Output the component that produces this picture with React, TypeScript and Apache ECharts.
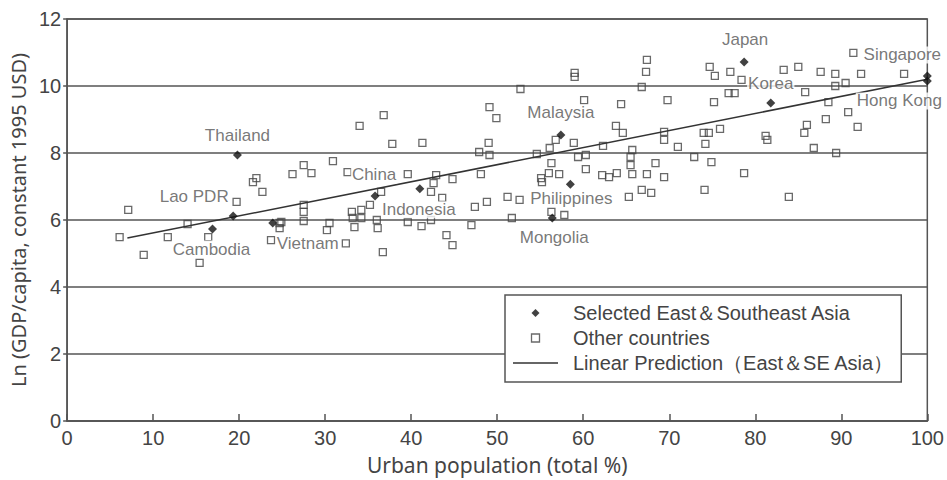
import React, { useEffect, useRef } from "react";
import * as echarts from "echarts";

// Selected East & Southeast Asia
const selectedNames = ["Thailand", "Lao PDR", "Cambodia", "Vietnam", "China", "Indonesia", "Philippines", "Mongolia", "Malaysia", "Japan", "Korea", "Singapore", "Hong Kong"];
const selectedUrban = [19.8, 19.3, 16.9, 23.9, 35.8, 41.0, 58.5, 56.4, 57.4, 78.7, 81.8, 100, 100];
const selectedLnGdp = [7.94, 6.12, 5.73, 5.91, 6.72, 6.93, 7.07, 6.06, 8.54, 10.72, 9.49, 10.3, 10.15];

// Other countries
const otherUrban = [
  7.1, 6.1, 8.9, 11.7, 14.0, 16.4, 15.4, 19.7, 22.0, 21.6, 22.7, 23.7, 24.7, 24.7, 26.2, 27.5, 28.4, 30.9, 27.5, 27.5,
  27.5, 24.9, 30.5, 30.2, 33.1, 34.2, 33.2, 33.4, 35.2, 34.2, 36.0, 36.1, 32.6, 36.5, 39.6, 36.7, 39.6, 41.2, 42.3, 42.9,
  42.6, 42.3, 44.8, 43.6, 44.1, 44.8, 47.0, 47.4, 48.8, 48.1, 49.1, 47.9, 51.2, 34.0, 36.8, 37.8, 41.3, 49.1, 49.9, 49.0,
  52.7, 59.0, 59.0, 67.4, 67.3, 66.8, 74.7, 75.3, 76.9, 60.1, 64.4, 69.8, 75.2, 63.8, 64.6, 69.4, 69.4, 71.0, 74.0, 74.6,
  74.2, 75.9, 58.9, 62.3, 65.7, 56.1, 56.8, 54.6, 60.3, 59.4, 65.5, 56.3, 56.0, 57.2, 55.1, 55.2, 60.3, 62.2, 63.0, 63.9,
  65.5, 65.7, 67.4, 68.4, 69.4, 72.9, 74.9, 65.3, 66.8, 67.9, 74.1, 52.6, 51.7, 56.3, 57.8, 77.1, 77.6, 85.0, 83.3, 85.8,
  87.6, 89.3, 89.3, 90.5, 92.3, 97.3, 91.4, 88.5, 90.8, 88.2, 86.0, 85.7, 91.9, 81.2, 81.4, 86.8, 89.4, 78.4, 78.7, 83.9,
  32.4
];
const otherLnGdp = [
  6.3, 5.49, 4.96, 5.49, 5.88, 5.49, 4.72, 6.54, 7.25, 7.13, 6.84, 5.4, 5.91, 5.76, 7.37, 7.64, 7.4, 7.76, 6.45, 6.24,
  5.97, 5.94, 5.91, 5.7, 6.24, 6.3, 6.06, 5.79, 6.45, 6.06, 6.0, 5.76, 7.43, 6.84, 7.37, 5.04, 5.94, 5.82, 6.0, 7.34,
  7.1, 6.84, 7.22, 6.66, 5.55, 5.25, 5.85, 6.39, 6.54, 7.37, 7.94, 8.03, 6.69, 8.81, 9.13, 8.27, 8.3, 9.37, 9.04, 8.3,
  9.91, 10.39, 10.27, 10.78, 10.42, 9.97, 10.57, 10.3, 9.79, 9.58, 9.46, 9.58, 9.52, 8.81, 8.6, 8.63, 8.39, 8.18, 8.6, 8.6,
  8.27, 8.72, 8.3, 8.21, 8.09, 8.15, 8.39, 7.97, 7.94, 7.88, 7.88, 7.7, 7.4, 7.37, 7.25, 7.13, 7.52, 7.34, 7.28, 7.4,
  7.64, 7.37, 7.37, 7.7, 7.28, 7.88, 7.73, 6.69, 6.9, 6.81, 6.9, 6.6, 6.06, 6.24, 6.15, 10.42, 9.79, 10.57, 10.48, 9.82,
  10.42, 10.36, 10.0, 10.09, 10.36, 10.36, 10.99, 9.52, 9.22, 9.01, 8.84, 8.6, 8.78, 8.51, 8.39, 8.15, 8.0, 10.18, 7.4, 6.69,
  5.3
];

// Linear prediction (East & SE Asia): endpoints of fitted line
const fitUrban = [7, 100];
const fitLnGdp = [5.46, 10.2];

const xTicks = [0, 100, 10];
const yTicks = [0, 12, 2];

const seriesNames = [
  "Selected East＆Southeast Asia",
  "Other countries",
  "Linear Prediction（East＆SE Asia）",
];

const xTitle = "Urban population (total %)";
const yTitle = "Ln (GDP/capita, constant 1995 USD)";

// label placement (style)
const labelOffsets: Record<string, [number, number]> = {
  Thailand: [0, -20],
  "Lao PDR": [-39, -19],
  Cambodia: [-1, 20],
  Vietnam: [35, 20],
  China: [-1, -21],
  Indonesia: [-1, 21],
  Philippines: [1, 14],
  Mongolia: [2, 20],
  Malaysia: [0, -22],
  Japan: [1, -22],
  Korea: [0, -20],
  Singapore: [-25, -21],
  "Hong Kong": [-28, 20],
};

const FONT = "'Liberation Sans', Arial, sans-serif";

export default function App() {
  const ref = useRef<HTMLDivElement>(null);
  useEffect(() => {
    if (!ref.current) return;
    const chart = echarts.init(ref.current, null, { renderer: "svg" });
    const selectedData = selectedNames.map((n, i) => ({
      name: n,
      value: [selectedUrban[i], selectedLnGdp[i]],
      label: { offset: labelOffsets[n] || [0, -20] },
    }));
    const otherData = otherUrban.map((u, i) => [u, otherLnGdp[i]]);
    const fitData = fitUrban.map((u, i) => [u, fitLnGdp[i]]);
    chart.setOption({
      animation: false,
      backgroundColor: "#fff",
      textStyle: { fontFamily: FONT },
      grid: {
        left: 67,
        right: 18,
        top: 19,
        bottom: 59,
        show: true,
        borderColor: "#555",
        borderWidth: 1.5,
        backgroundColor: "transparent",
      },
      legend: {
        left: 505,
        top: 295,
        orient: "vertical",
        padding: [8, 7, 9, 8],
        itemGap: 5,
        itemWidth: 45,
        itemHeight: 8,
        borderColor: "#555",
        borderWidth: 1.5,
        borderRadius: 0,
        backgroundColor: "#fff",
        selectedMode: false,
        symbolKeepAspect: true,
        textStyle: { fontSize: 20, color: "#444", fontFamily: FONT, padding: [0, 0, 0, 10] },
        data: [
          { name: seriesNames[0], icon: "path://M5,0L10,5L5,10L0,5Z", itemStyle: { color: "#111" } },
          {
            name: seriesNames[1],
            icon: "path://M0,0H10V10H0Z",
            itemStyle: { color: "transparent", borderColor: "#444", borderWidth: 1.3 },
          },
          { name: seriesNames[2], icon: "path://M0,0H60V2H0Z", itemStyle: { color: "#333", borderWidth: 0 } },
        ],
      },
      xAxis: {
        type: "value",
        min: xTicks[0],
        max: xTicks[1],
        interval: xTicks[2],
        name: xTitle,
        nameLocation: "middle",
        nameGap: 33,
        nameTextStyle: { fontSize: 21, color: "#444", fontFamily: "'Noto Sans', sans-serif" },
        axisLine: { show: true, lineStyle: { color: "#555", width: 1.5 } },
        axisTick: { show: true, inside: true, length: 7, lineStyle: { color: "#555", width: 1.5 } },
        axisLabel: { fontSize: 20, color: "#444", margin: 7, fontFamily: FONT },
        splitLine: { show: false },
      },
      yAxis: {
        type: "value",
        min: yTicks[0],
        max: yTicks[1],
        interval: yTicks[2],
        name: yTitle,
        nameLocation: "middle",
        nameGap: 38,
        nameRotate: 90,
        nameTextStyle: { fontSize: 20, color: "#444", fontFamily: "'Noto Sans', sans-serif" },
        axisLine: { show: true, lineStyle: { color: "#555", width: 1.5 } },
        axisTick: { show: true, inside: false, length: 4, lineStyle: { color: "#555", width: 1.5 } },
        axisLabel: { fontSize: 20, color: "#444", margin: 6, fontFamily: FONT },
        splitLine: { show: true, lineStyle: { color: "#555", width: 1.5 } },
      },
      series: [
        {
          name: seriesNames[1],
          type: "scatter",
          symbol: "rect",
          symbolSize: 7,
          itemStyle: { color: "transparent", borderColor: "#444", borderWidth: 1.3 },
          data: otherData,
          z: 2,
        },
        {
          name: seriesNames[2],
          type: "line",
          symbol: "none",
          itemStyle: { color: "#333" },
          lineStyle: { color: "#333", width: 1.5 },
          data: fitData,
          z: 3,
        },
        {
          name: seriesNames[0],
          type: "scatter",
          symbol: "diamond",
          symbolSize: 9,
          itemStyle: { color: "#111" },
          data: selectedData,
          z: 4,
          label: {
            show: true,
            formatter: "{b}",
            position: "inside",
            align: "center",
            verticalAlign: "middle",
            fontSize: 17,
            color: "#555",
            fontFamily: FONT,
            backgroundColor: "#fff",
            padding: [0, 1],
          },
        },
      ],
    });
    return () => chart.dispose();
  }, []);
  return (
    <div
      ref={ref}
      style={{ position: "fixed", left: 0, top: 0, width: 947, height: 480 }}
    />
  );
}
